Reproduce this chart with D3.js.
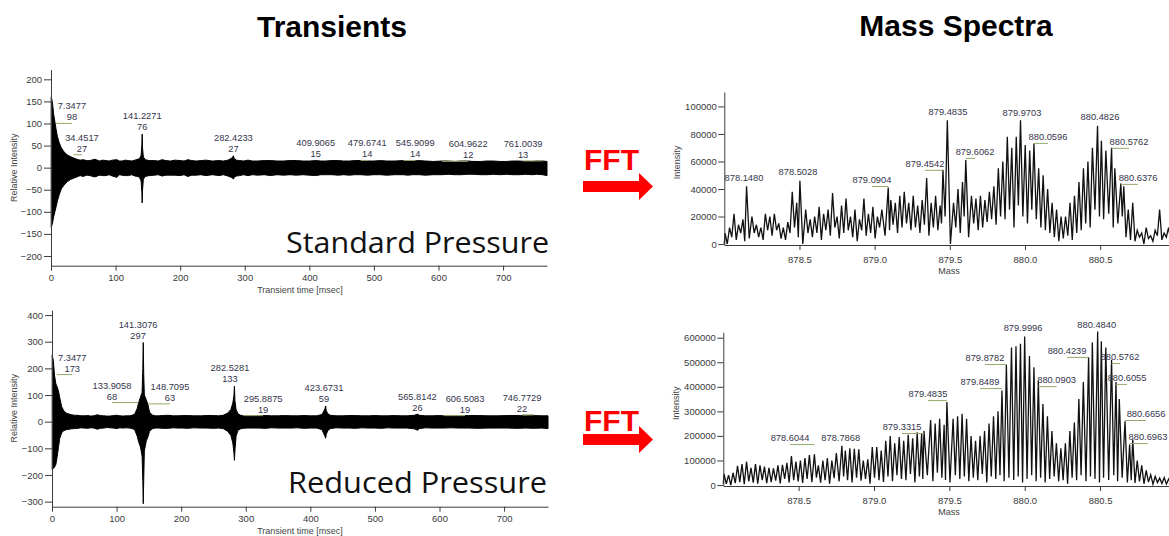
<!DOCTYPE html>
<html>
<head>
<meta charset="utf-8">
<script src="https://cdn.jsdelivr.net/npm/d3@7"></script>
<style>
  body { margin: 0; background: #fff; }
  svg { display: block; }
  .axis path, .axis line { stroke: #3c3c3c; stroke-width: 1; }
  .axis text { font-family: "Liberation Sans", Arial, sans-serif; font-size: 9.5px; fill: #3a3a3a; }
  .lab { font-family: "Liberation Sans", Arial, sans-serif; font-size: 9.3px; fill: #34344a; }
  .atitle { font-family: "Liberation Sans", Arial, sans-serif; font-size: 9px; fill: #444; }
</style>
</head>
<body>
<svg id="fig"></svg>
<script>
// ---- transients: envelope [time ms, upper, lower]
const stdEnvelope = [
  [0.3,160,-135],[2,150,-128],[4,122,-112],[6,104,-100],[8,86,-88],[10,70,-75],[13,55,-60],[16,45,-48],
  [20,36,-40],[25,29,-32],[30,25,-27],[35,22,-24],[40,19,-21],[45,17,-18],[50,18,-20],[55,16,-17],[60,16,-18],[68,19,-21],
  [75,15,-17],[80,17,-18],[85,16,-18],[90,15,-16],[95,17,-19],[102,18,-22],[106,15,-16],[110,15,-17],[115,17,-18],[120,16,-18],[125,15,-16],[130,17,-19],[134,19,-20],
  [137,20,-22],[139.5,28,-30],[140.7,52,-56],[141.2,76,-80],[141.7,46,-52],[143,24,-26],[146,18,-20],[152,16,-18],[160,16,-17],[166,15,-16],[172,18,-19],
  [178,16,-17],[185,15,-17],[192,17,-17],[200,16,-18],[206,15,-16],[212,18,-20],[218,16,-17],[225,15,-17],[232,16,-16],[240,17,-18],[250,15,-16],[260,16,-18],[267,15,-16],[274,17,-19],[279,21,-22],
  [281.5,24,-24],[282.4,27,-26],[283.5,21,-22],[287,17,-19],[292,16,-18],[298,15,-16],[305,17,-18],[312,15,-16],[320,15,-17],[330,16,-16],[340,16,-18],[350,15,-16],[360,15,-17],[370,16,-16],[380,16,-17],
  [390,15,-16],[400,15,-17],[409.9,16,-18],[418,15,-16],[425,15,-16],[435,16,-16],[445,16,-17],[453,15,-16],[462,15,-17],[470,16,-16],[479.7,16,-16],[490,15,-17],[500,15,-16],[510,16,-16],[520,15,-17],
  [532,15,-16],[545.9,16,-16],[552,15,-17],[560,15,-16],[570,16,-16],[580,15,-17],[592,14,-16],[604.9,15,-16],[615,15,-15],[625,14,-16],[635,15,-16],[645,15,-15],[655,14,-15],[665,14,-16],[675,15,-16],[685,15,-15],
  [695,14,-16],[705,14,-15],[715,15,-16],[725,15,-16],[735,14,-15],[745,14,-16],[752,15,-15],[761,15,-16],[768,14,-18]
];
const redEnvelope = [
  [0.3,250,-180],[2,230,-176],[4,172,-170],[6,142,-160],[8,130,-132],[10,115,-96],[12,90,-62],[15,56,-42],
  [18,42,-34],[22,32,-30],[30,26,-27],[35,24,-26],[40,24,-25],[45,22,-23],[50,22,-24],[55,23,-25],[60,21,-23],[65,22,-24],[70,26,-28],[75,23,-25],[80,22,-24],[85,21,-22],
  [90,21,-23],[95,23,-24],[100,24,-26],[105,22,-23],[110,21,-24],[115,22,-23],[120,22,-24],[124,24,-26],[128,28,-30],[132,50,-55],[134,70,-75],[137,92,-95],
  [139.5,110,-130],[140.6,200,-220],[141.3,297,-308],[142,180,-220],[143,100,-110],[146,82,-72],[148.7,63,-56],[151,36,-36],
  [155,25,-27],[160,22,-24],[165,22,-24],[172,23,-25],[180,24,-25],[188,22,-23],[195,22,-24],[202,23,-24],[210,23,-25],[220,22,-23],[230,22,-24],[240,23,-24],[250,23,-25],[258,22,-24],[265,24,-26],
  [272,32,-36],[277,46,-52],[280,70,-80],[281.8,100,-120],[282.5,133,-145],[283.2,80,-110],[285,45,-55],[288,30,-32],[292,24,-27],[295.9,22,-25],
  [302,23,-24],[310,22,-24],[320,23,-24],[330,23,-25],[340,22,-23],[350,22,-24],[360,23,-24],[370,22,-24],[380,22,-23],[390,23,-25],[400,22,-24],[410,22,-24],[418,27,-30],[421,40,-46],
  [422.8,50,-56],[423.7,59,-62],[424.6,42,-48],[427,30,-34],[431,24,-26],[440,22,-23],[450,22,-24],[460,23,-24],[470,23,-25],[480,22,-23],[490,22,-24],[500,23,-24],[510,22,-25],[520,22,-23],[530,23,-24],
  [540,22,-24],[550,22,-24],[561,24,-27],[565.8,28,-32],[569,24,-26],[578,22,-23],[590,22,-24],[598,23,-24],[606.5,22,-24],[618,22,-23],[630,22,-24],[645,23,-24],[660,23,-25],[675,22,-24],
  [690,22,-24],[705,23,-24],[720,23,-25],[733,22,-24],[746.8,23,-25],[758,22,-24],[768,22,-26]
];

// labelled transient peaks
const stdPeakTimes  = [7.3477, 34.4517, 141.2271, 282.4233, 409.9065, 479.6741, 545.9099, 604.9622, 761.0039];
const stdPeakValues = [98, 27, 76, 27, 15, 14, 14, 12, 13];
const stdLabelShift = [25, 13.5, 0, 0, 0, 10, 18, 41, -30];   // ms

const redPeakTimes  = [7.3477, 133.9058, 141.3076, 148.7095, 282.5281, 295.8875, 423.6731, 565.8142, 606.5083, 746.7729];
const redPeakValues = [173, 68, 297, 63, 133, 19, 59, 26, 19, 22];
const redLabelShift = [24, -41, -8, 34, -7, 31, -2.5, 0, 33, -19];

// ---- mass spectra: peak heights and following valleys (x1000 counts), one per fine-structure peak
const peakStart = 878.005, peakStep = 0.0298;
const stdHeights = [
  8,12,22,14,18,42,20,14,12,22,   20,22,15,12,16,38,30,46,25,18,
  20,27,22,25,37,20,28,33,20,25,  18,33,22,27,20,25,41,32,30,35,
  38,30,35,28,32,48,30,35,28,54,  90,30,40,45,61,35,33,35,32,38,
  42,55,60,78,70,78,90,72,68,73,  55,50,40,30,25,20,20,30,35,45,
  55,60,70,86,75,68,70,55,44,42,  25,30,10,8,12,6,10,25,8,12
];
const stdValleys = [
  0,5,3,8,2,4,8,5,3,10,   6,10,4,3,8,12,5,0,8,5,
  8,3,10,6,12,4,8,10,5,2, 10,6,8,4,12,6,10,14,8,12,
  15,10,12,8,14,6,12,10,15,20, 0,12,8,20,5,15,10,12,16,18,
  14,20,18,25,12,28,20,15,25,18, 12,10,8,5,2,4,6,3,8,10,
  15,12,25,20,18,22,12,15,20,5, 3,2,5,0,4,2,6,3,5,2
];
const redHeights = [
  45,40,50,78,85,95,70,85,80,75,        70,68,80,82,90,118,95,100,110,122,
  125,80,100,110,100,130,160,140,150,148, 145,100,105,155,155,140,180,200,170,195,
  180,205,190,215,210,220,265,250,270,245, 338,270,280,290,270,200,180,200,220,250,
  280,300,385,490,560,565,575,605,525,480, 425,330,280,220,170,150,170,220,255,350,
  420,520,580,625,585,560,510,420,350,260, 165,185,100,80,60,42,35,28,30,25
];
const redValleys = [
  5,0,8,12,3,15,10,5,20,8,     12,18,6,25,10,20,15,8,25,12,
  30,10,20,5,28,15,35,20,10,30, 18,25,5,30,20,12,35,15,40,25,
  20,45,10,35,25,40,15,50,30,20, 10,40,25,35,15,30,20,45,10,35,
  25,40,15,30,20,35,10,25,40,15, 30,10,25,35,15,20,5,30,20,40,
  15,35,25,10,30,20,40,15,30,10, 20,8,15,5,12,3,10,6,4,8
];

// labelled spectrum peaks, and where the label text sits (mass, intensity in x1000)
const stdSpecLabels   = [878.1480, 878.5028, 879.0904, 879.4542, 879.4835, 879.6062, 879.9703, 880.0596, 880.4826, 880.5762, 880.6376];
const stdSpecLabelAt  = [[878.131,45.9],[878.490,50.3],[878.982,44.4],[879.335,56.1],[879.488,94],[879.668,64.8],
                         [879.980,93.2],[880.153,75.7],[880.499,90.3],[880.692,72.1],[880.752,45.9]];
const redSpecLabels   = [878.6044, 878.7868, 879.3315, 879.4835, 879.8489, 879.8782, 879.9996, 880.0903, 880.4239, 880.4840, 880.5762, 880.6055, 880.6656, 880.6963];
const redSpecLabelAt  = [[878.443,179],[878.779,179],[879.186,224],[879.358,358],[879.703,407],[879.736,505],[879.989,627],
                         [880.212,415],[880.281,534],[880.478,640],[880.632,509],[880.679,424],[880.805,277],[880.818,183]];

const W = 1169, H = 536;
const svg = d3.select('#fig').attr('width', W).attr('height', H);
const leaderColor = '#93a86a';

// ---------- headers
svg.append('text').attr('x', 332).attr('y', 37).attr('text-anchor', 'middle')
  .style('font', 'bold 30px "Liberation Sans", Arial, sans-serif').text('Transients');
svg.append('text').attr('x', 956).attr('y', 36).attr('text-anchor', 'middle')
  .style('font', 'bold 30px "Liberation Sans", Arial, sans-serif').text('Mass Spectra');

// ---------- FFT arrows
function fftArrow(baseY, shaftTop) {
  svg.append('text').attr('x', 584).attr('y', baseY)
    .style('font', 'bold 30px "Liberation Sans", Arial, sans-serif').attr('fill', '#ff0000').text('FFT');
  const sh = 11, head = 27, mid = shaftTop + sh / 2;
  svg.append('path').attr('fill', '#ff0000')
    .attr('d', `M583,${shaftTop} L639,${shaftTop} L639,${mid - head / 2} L653,${mid} L639,${mid + head / 2} L639,${shaftTop + sh} L583,${shaftTop + sh} Z`);
}
fftArrow(170, 181);
fftArrow(431, 434);

// ---------- transient panel
function drawTransient(o) {
  const x = d3.scaleLinear().domain([0, 768]).range(o.xr);
  const y = d3.scaleLinear().domain(o.yd).range(o.yr);
  const g = svg.append('g');

  const area = d3.area().x(d => x(d[0])).y0(d => y(d[2])).y1(d => y(d[1])).curve(d3.curveLinear);
  g.append('path').datum(o.env).attr('d', area).attr('fill', '#000').attr('stroke', '#000').attr('stroke-width', 1);

  // axes
  const xAxisG = g.append('g').attr('class', 'axis').attr('transform', `translate(0,${o.yr[0]})`);
  xAxisG.call(d3.axisBottom(x).tickValues(d3.range(0, 768, 20)).tickSize(3).tickFormat(''));
  xAxisG.call(d3.axisBottom(x).tickValues(d3.range(0, 701, 100)).tickSize(5).tickSizeOuter(0).tickPadding(4).tickFormat(d3.format('d')));
  const yAxisG = g.append('g').attr('class', 'axis').attr('transform', `translate(${o.xr[0]},0)`);
  yAxisG.call(d3.axisLeft(y).tickValues(o.yMinor).tickSize(3).tickFormat(''));
  yAxisG.call(d3.axisLeft(y).tickValues(o.yTicks).tickSize(7).tickSizeOuter(0).tickPadding(2));

  // peak annotations
  o.times.forEach((t, i) => {
    const px = x(t), lx = x(t + o.shift[i]), py = y(o.values[i]);
    if (Math.abs(lx - px) > 6) {
      g.append('line').attr('x1', px).attr('x2', lx).attr('y1', py - 1).attr('y2', py - 1)
        .attr('stroke', leaderColor).attr('stroke-width', 1);
    }
    g.append('text').attr('class', 'lab').attr('x', lx).attr('y', py - 15).attr('text-anchor', 'middle').text(t.toFixed(4));
    g.append('text').attr('class', 'lab').attr('x', lx).attr('y', py - 4).attr('text-anchor', 'middle').text(o.values[i]);
  });

  g.append('text').attr('class', 'atitle').attr('text-anchor', 'middle')
    .attr('transform', `translate(17,${(o.yr[0] + o.yr[1]) / 2}) rotate(-90)`).text('Relative Intensity');
  g.append('text').attr('class', 'atitle').attr('text-anchor', 'middle')
    .attr('x', 300).attr('y', o.yr[0] + 27).text('Transient time [msec]');

  g.append('text').attr('x', o.cap[0]).attr('y', o.cap[1]).attr('textLength', o.cap[2]).attr('lengthAdjust', 'spacingAndGlyphs')
    .style('font', '30px "Open Sans", "Noto Sans", sans-serif').attr('fill', '#111').text(o.caption);
}

drawTransient({
  env: stdEnvelope, times: stdPeakTimes, values: stdPeakValues, shift: stdLabelShift,
  xr: [51, 547], yd: [-222, 222], yr: [265.7, 69.6],
  yTicks: d3.range(-200, 201, 50), yMinor: d3.range(-200, 201, 25),
  caption: 'Standard Pressure', cap: [286, 253, 263]
});
drawTransient({
  env: redEnvelope, times: redPeakTimes, values: redPeakValues, shift: redLabelShift,
  xr: [52, 548], yd: [-319, 419], yr: [506.7, 310],
  yTicks: d3.range(-300, 401, 100), yMinor: d3.range(-300, 401, 50),
  caption: 'Reduced Pressure', cap: [288, 493, 259]
});

// ---------- spectrum panel
function drawSpectrum(o) {
  const x = d3.scaleLinear().domain([878, 880.96]).range(o.xr);
  const y = d3.scaleLinear().domain(o.yd).range(o.yr);
  const g = svg.append('g');

  // peak list: regular fine-structure spacing, labelled peaks put at their exact mass
  const peaks = o.heights.map((h, i) => ({ m: peakStart + i * peakStep, h: h * 1000, v: o.valleys[i] * 1000 }));
  o.labels.forEach(m => {
    const i = Math.round((m - peakStart) / peakStep);
    if (peaks[i]) peaks[i].m = m;
  });
  const pts = [[878, peaks[0].v]];
  peaks.forEach((p, i) => {
    pts.push([p.m, p.h]);
    const next = peaks[i + 1];
    pts.push([next ? (p.m + next.m) / 2 : p.m + peakStep / 2, p.v]);
  });
  g.append('path').datum(pts)
    .attr('d', d3.line().x(d => x(d[0])).y(d => y(d[1])))
    .attr('fill', 'none').attr('stroke', '#111').attr('stroke-width', 1.3).attr('stroke-linejoin', 'miter');

  const xAxisG = g.append('g').attr('class', 'axis').attr('transform', `translate(0,${o.yr[0]})`);
  xAxisG.call(d3.axisBottom(x).tickValues(d3.range(878.1, 880.96, 0.1)).tickSize(3).tickFormat(''));
  xAxisG.call(d3.axisBottom(x).tickValues([878.5, 879, 879.5, 880, 880.5]).tickSize(5).tickSizeOuter(0)
    .tickPadding(6).tickFormat(d3.format('.1f')));
  const yAxisG = g.append('g').attr('class', 'axis').attr('transform', `translate(${o.xr[0]},0)`);
  yAxisG.call(d3.axisLeft(y).tickValues(o.yMinor).tickSize(3).tickFormat(''));
  yAxisG.call(d3.axisLeft(y).tickValues(o.yTicks).tickSize(6).tickSizeOuter(0).tickPadding(1.5).tickFormat(d3.format('d')));

  o.labels.forEach((m, i) => {
    const [lm, lv] = o.labelAt[i];
    const lx = x(lm), ly = y(lv * 1000), px = x(m);
    if (Math.abs(lx - px) > 4) {
      g.append('line').attr('x1', lx).attr('x2', px).attr('y1', ly + 3.5).attr('y2', ly + 3.5)
        .attr('stroke', leaderColor).attr('stroke-width', 1);
    }
    g.append('text').attr('class', 'lab').attr('x', lx).attr('y', ly).attr('text-anchor', 'middle').text(m.toFixed(4));
  });

  g.append('text').attr('class', 'atitle').attr('text-anchor', 'middle')
    .attr('transform', `translate(${o.ylabX},${(o.yr[0] + o.yr[1]) / 2 - 6}) rotate(-90)`).text('Intensity');
  g.append('text').attr('class', 'atitle').attr('text-anchor', 'middle')
    .attr('x', 949).attr('y', o.yr[0] + 29).text('Mass');
}

drawSpectrum({
  heights: stdHeights, valleys: stdValleys, labels: stdSpecLabels, labelAt: stdSpecLabelAt,
  xr: [724.3, 1169.3], yd: [-700, 110500], yr: [245, 92], ylabX: 680,
  yTicks: d3.range(0, 100001, 20000), yMinor: d3.range(0, 110001, 10000)
});
drawSpectrum({
  heights: redHeights, valleys: redValleys, labels: redSpecLabels, labelAt: redSpecLabelAt,
  xr: [723.3, 1169.4], yd: [-4000, 622000], yr: [486, 332.3], ylabX: 679,
  yTicks: d3.range(0, 600001, 100000), yMinor: d3.range(0, 600001, 50000)
});
</script>
</body>
</html>
